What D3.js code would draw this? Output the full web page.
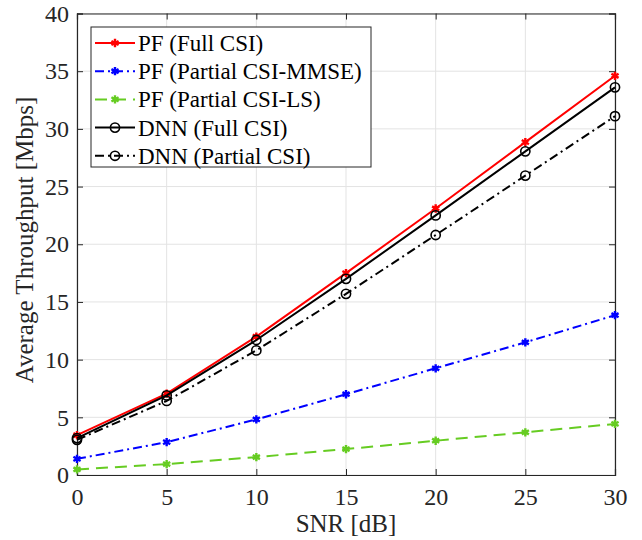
<!DOCTYPE html>
<html>
<head>
<meta charset="utf-8">
<script src="https://cdn.jsdelivr.net/npm/d3@7"></script>
<style>
  body { margin: 0; background: #fff; }
  text { font-family: "Liberation Serif", "Times New Roman", serif; fill: #262626; }
</style>
</head>
<body>
<div id="chart"></div>
<script>
// data
const snr = [0, 5, 10, 15, 20, 25, 30];
const pfFull = [3.45, 7.05, 12.0, 17.5, 23.1, 28.85, 34.6];
const pfMmse = [1.4, 2.85, 4.82, 7.0, 9.25, 11.5, 13.85];
const pfLs = [0.48, 0.95, 1.55, 2.25, 2.97, 3.7, 4.43];
const dnnFull = [3.2, 6.9, 11.7, 17.0, 22.5, 28.05, 33.6];
const dnnPartial = [3.05, 6.42, 10.8, 15.7, 20.8, 25.95, 31.1];
const xTicks = [0, 5, 10, 15, 20, 25, 30];
const yTicks = [0, 5, 10, 15, 20, 25, 30, 35, 40];

const series = [
  { name: "PF (Full CSI)", values: pfFull, color: "#ff0000", dash: null, marker: "star" },
  { name: "PF (Partial CSI-MMSE)", values: pfMmse, color: "#0000ff", dash: "9,4,2,4", marker: "star" },
  { name: "PF (Partial CSI-LS)", values: pfLs, color: "#66cc22", dash: "12,7", marker: "star" },
  { name: "DNN (Full CSI)", values: dnnFull, color: "#000000", dash: null, marker: "circle" },
  { name: "DNN (Partial CSI)", values: dnnPartial, color: "#000000", dash: "9,4,2,4", marker: "circle" },
];

const width = 642, height = 540;
const margin = { top: 13.5, right: 27, bottom: 65, left: 77 };
const innerW = width - margin.left - margin.right;
const innerH = height - margin.top - margin.bottom;

const svg = d3.select("#chart").append("svg")
  .attr("width", width).attr("height", height);
const g = svg.append("g").attr("transform", `translate(${margin.left},${margin.top})`);

const x = d3.scaleLinear().domain([0, 30]).range([0, innerW]);
const y = d3.scaleLinear().domain([0, 40]).range([innerH, 0]);

// grid
g.append("g").selectAll("line").data(xTicks).enter().append("line")
  .attr("x1", d => x(d)).attr("x2", d => x(d)).attr("y1", 0).attr("y2", innerH)
  .style("stroke", "#e3e3e3").style("stroke-width", 1);
g.append("g").selectAll("line").data(yTicks).enter().append("line")
  .attr("y1", d => y(d)).attr("y2", d => y(d)).attr("x1", 0).attr("x2", innerW)
  .style("stroke", "#e3e3e3").style("stroke-width", 1);

// axes (ticks inward)
const xAxis = g.append("g").attr("transform", `translate(0,${innerH})`)
  .call(d3.axisBottom(x).tickValues(xTicks).tickSize(-6).tickPadding(13));
const xAxisTop = g.append("g")
  .call(d3.axisTop(x).tickValues(xTicks).tickSize(-6).tickFormat(""));
const yAxis = g.append("g")
  .call(d3.axisLeft(y).tickValues(yTicks).tickSize(-6).tickPadding(8));
const yAxisRight = g.append("g").attr("transform", `translate(${innerW},0)`)
  .call(d3.axisRight(y).tickValues(yTicks).tickSize(-6).tickFormat(""));

[xAxis, xAxisTop, yAxis, yAxisRight].forEach(a => {
  a.select(".domain").style("stroke", "#262626").style("stroke-width", 1.2);
  a.selectAll(".tick line").style("stroke", "#262626");
  a.selectAll("text").style("font-size", "24px").style("font-family", "Liberation Serif, serif").style("fill", "#262626");
});

// axis labels
svg.append("text")
  .attr("x", margin.left + innerW / 2).attr("y", 532)
  .attr("text-anchor", "middle").style("font-size", "25px")
  .text("SNR [dB]");
svg.append("text")
  .attr("transform", "translate(33,240) rotate(-90)")
  .attr("text-anchor", "middle").style("font-size", "25px")
  .text("Average Throughput [Mbps]");

const line = d3.line().x((d, i) => x(snr[i])).y(d => y(d));
const star = d3.symbol().type(d3.symbolAsterisk).size(48);

function drawMarker(sel, s) {
  if (s.marker === "star") {
    sel.append("path").attr("d", star)
      .style("fill", "none").style("stroke", s.color).style("stroke-width", 2.4);
    sel.append("circle").attr("r", 2.2).style("fill", s.color);
  } else {
    sel.append("circle").attr("r", 4.6)
      .style("fill", "none").style("stroke", s.color).style("stroke-width", 1.6);
  }
}

// lines and markers
series.forEach(s => {
  g.append("path").datum(s.values)
    .attr("d", line)
    .style("fill", "none")
    .style("stroke", s.color)
    .style("stroke-width", 2)
    .style("stroke-dasharray", s.dash);
  const m = g.append("g").selectAll("g").data(s.values).enter().append("g")
    .attr("transform", (d, i) => `translate(${x(snr[i])},${y(d)})`);
  drawMarker(m, s);
});

// legend
const legend = svg.append("g").attr("transform", "translate(91,27)");
legend.append("rect")
  .attr("width", 280).attr("height", 140)
  .style("fill", "#fff").style("stroke", "#262626").style("stroke-width", 1);

const items = legend.selectAll(".legend-item").data(series).enter().append("g")
  .attr("class", "legend-item")
  .attr("transform", (d, i) => `translate(0,${16 + i * 28.2})`);
items.append("line")
  .attr("x1", 4).attr("x2", 44).attr("y1", 0).attr("y2", 0)
  .style("stroke", d => d.color).style("stroke-width", 2)
  .style("stroke-dasharray", d => d.dash);
items.each(function (d) {
  const mg = d3.select(this).append("g").attr("transform", "translate(24,0)");
  drawMarker(mg, d);
});
items.append("text")
  .attr("x", 47).attr("y", 0).attr("dy", "0.35em")
  .style("font-size", "23px").style("fill", "#000")
  .text(d => d.name);
</script>
</body>
</html>
